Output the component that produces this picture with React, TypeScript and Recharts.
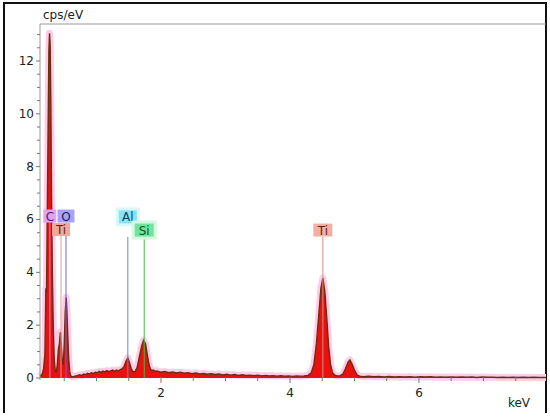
import React from "react";
import { ComposedChart, Area, XAxis, YAxis, ReferenceLine, ReferenceDot } from "recharts";

// EDS spectrum: [energy keV, counts cps/eV]
const spectrum: [number, number][] = [
  [0.124, 0.06], [0.14, 0.1], [0.16, 0.15], [0.18, 0.35], [0.2, 0.9], [0.215, 3.4],
  [0.225, 3.2], [0.235, 5.8], [0.25, 9.5], [0.262, 12.4], [0.272, 13.05], [0.282, 12.6],
  [0.292, 10.5], [0.302, 7.2], [0.315, 4.1], [0.33, 1.9], [0.345, 0.7], [0.36, 0.3],
  [0.375, 0.2], [0.39, 0.45], [0.41, 1.1], [0.425, 1.3], [0.44, 1.74], [0.455, 1.2],
  [0.47, 0.6], [0.485, 0.5], [0.5, 1.3], [0.515, 2.5], [0.53, 3.05], [0.54, 2.6],
  [0.555, 1.6], [0.57, 0.7], [0.585, 0.25], [0.6, 0.08], [0.62, 0.05], [0.65, 0.06],
  [0.68, 0.08], [0.71, 0.1], [0.74, 0.12], [0.77, 0.09], [0.8, 0.15], [0.83, 0.13],
  [0.86, 0.18], [0.89, 0.15], [0.92, 0.2], [0.95, 0.17], [0.98, 0.22], [1.01, 0.2],
  [1.04, 0.25], [1.07, 0.21], [1.1, 0.26], [1.13, 0.23], [1.16, 0.28], [1.19, 0.24],
  [1.22, 0.27], [1.25, 0.3], [1.28, 0.25], [1.31, 0.3], [1.34, 0.27], [1.37, 0.32],
  [1.4, 0.35], [1.43, 0.45], [1.46, 0.65], [1.486, 0.76], [1.51, 0.6], [1.54, 0.35],
  [1.57, 0.22], [1.6, 0.25], [1.63, 0.4], [1.66, 0.75], [1.7, 1.2], [1.73, 1.43],
  [1.76, 1.3], [1.79, 0.85], [1.82, 0.45], [1.85, 0.28], [1.88, 0.3], [1.91, 0.25],
  [1.94, 0.27], [2.0, 0.22], [2.06, 0.25], [2.12, 0.2], [2.18, 0.23], [2.24, 0.19],
  [2.3, 0.22], [2.36, 0.18], [2.42, 0.2], [2.48, 0.16], [2.54, 0.19], [2.6, 0.15],
  [2.66, 0.17], [2.72, 0.14], [2.78, 0.16], [2.84, 0.13], [2.9, 0.15], [2.96, 0.12],
  [3.02, 0.14], [3.08, 0.11], [3.14, 0.13], [3.2, 0.1], [3.26, 0.12], [3.32, 0.1],
  [3.38, 0.11], [3.44, 0.09], [3.5, 0.11], [3.56, 0.08], [3.62, 0.1], [3.68, 0.08],
  [3.74, 0.09], [3.8, 0.07], [3.86, 0.09], [3.92, 0.07], [3.98, 0.08], [4.04, 0.06],
  [4.1, 0.08], [4.16, 0.07], [4.22, 0.08], [4.28, 0.1], [4.33, 0.2], [4.37, 0.5],
  [4.41, 1.3], [4.45, 2.5], [4.48, 3.4], [4.51, 3.78], [4.54, 3.3], [4.57, 2.3],
  [4.6, 1.2], [4.63, 0.5], [4.66, 0.2], [4.7, 0.1], [4.74, 0.08], [4.78, 0.09],
  [4.82, 0.15], [4.86, 0.35], [4.9, 0.6], [4.93, 0.68], [4.96, 0.55], [5.0, 0.3],
  [5.04, 0.12], [5.08, 0.07], [5.14, 0.05], [5.22, 0.07], [5.3, 0.05], [5.38, 0.06],
  [5.46, 0.04], [5.54, 0.06], [5.62, 0.04], [5.7, 0.05], [5.78, 0.04], [5.86, 0.05],
  [5.94, 0.03], [6.02, 0.05], [6.1, 0.04], [6.18, 0.05], [6.26, 0.03], [6.34, 0.04],
  [6.42, 0.03], [6.5, 0.04], [6.58, 0.03], [6.66, 0.04], [6.74, 0.03], [6.82, 0.04],
  [6.9, 0.02], [6.98, 0.04], [7.06, 0.03], [7.14, 0.03], [7.22, 0.02], [7.3, 0.03],
  [7.38, 0.02], [7.46, 0.03], [7.54, 0.02], [7.62, 0.03], [7.7, 0.02], [7.78, 0.03],
  [7.86, 0.02], [7.97, 0.02],
];

const elementNames = ["C", "O", "Ti", "Al", "Si", "Ti"];
const elementKeV = [0.277, 0.527, 0.45, 1.486, 1.74, 4.51];

const yTicks = [0, 0.5, 1, 1.5, 2, 2.5, 3, 3.5, 4, 4.5, 5, 5.5, 6, 6.5, 7, 7.5, 8, 8.5, 9, 9.5, 10, 10.5, 11, 11.5, 12, 12.5, 13];
const yTickLabels = [0, 2, 4, 6, 8, 10, 12];
const xTicks = [0.5, 1, 1.5, 2, 2.5, 3, 3.5, 4, 4.5, 5, 5.5, 6, 6.5, 7, 7.5];
const xTickLabels = [2, 4, 6];

// label look for each element marker (same order as elementNames)
const markerStyle = [
  { bg: "#e2a2f2", fg: "#5a1a6a", line: "#d890e0", w: 13, labelY: 6.13, lineTop: 5.9, glow: "" },
  { bg: "#a9a3f3", fg: "#1c1c70", line: "#6868e0", w: 17, labelY: 6.13, lineTop: 5.9, glow: "" },
  { bg: "#f2a898", fg: "#6a1a10", line: "#d8a090", w: 18, labelY: 5.62, lineTop: 5.41, glow: "" },
  { bg: "#86e2f4", fg: "#10405a", line: "#6088c8", w: 18, labelY: 6.1, lineTop: 5.34, glow: "#d8f8fc" },
  { bg: "#6ee49c", fg: "#10501e", line: "#40c040", w: 19, labelY: 5.6, lineTop: 5.34, glow: "#d6f8e0" },
  { bg: "#f2b0a4", fg: "#6a1a10", line: "#d09080", w: 19, labelY: 5.6, lineTop: 5.34, glow: "" },
];

const data = spectrum.map(([keV, cps]) => ({ keV, cps }));
const FONT = "'DejaVu Sans', Verdana, sans-serif";

function YTick(props: any) {
  const { x, y, payload } = props;
  const major = yTickLabels.includes(payload.value);
  return (
    <g>
      <line x1={x - (major ? 4 : 3)} x2={x} y1={y} y2={y} stroke="#777" />
      {major && (
        <text x={x - 6} y={y} dy={4} textAnchor="end" fontSize={12} fontFamily={FONT} fill="#222">
          {payload.value}
        </text>
      )}
    </g>
  );
}

function XTick(props: any) {
  const { x, y, payload } = props;
  const major = xTickLabels.includes(payload.value);
  return (
    <g>
      <line x1={x} x2={x} y1={y - 3} y2={y + (major ? 3 : 1)} stroke="#777" />
      {major && (
        <text x={x} y={y + 17} textAnchor="middle" fontSize={12} fontFamily={FONT} fill="#222">
          {payload.value}
        </text>
      )}
    </g>
  );
}

function Tag({ cx, cy, name, s }: any) {
  const h = 13;
  return (
    <g>
      {s.glow && <rect x={cx - s.w / 2 - 3} y={cy - h / 2 - 3} width={s.w + 6} height={h + 6} fill={s.glow} />}
      <rect x={cx - s.w / 2} y={cy - h / 2} width={s.w} height={h} fill={s.bg} />
      <text x={cx} y={cy} dy={4.5} textAnchor="middle" fontSize={12} fontFamily={FONT} fill={s.fg}>
        {name}
      </text>
    </g>
  );
}

export default function App() {
  return (
    <div style={{ position: "absolute", left: 0, top: 0, width: 550, height: 417, background: "#fff" }}>
      <div
        style={{
          position: "absolute", left: 3, top: 2, width: 544, height: 411, boxSizing: "border-box",
          borderLeft: "2px solid #111", borderTop: "2px solid #111", borderRight: "2px solid #111",
        }}
      />
      <div style={{ position: "absolute", left: 0, top: 0 }}>
        <ComposedChart width={550} height={417} data={data} margin={{ top: 0, right: 4, bottom: 0, left: 0 }}>
          <XAxis
            xAxisId="top" orientation="top" dataKey="keV" type="number" domain={[0.124, 7.97]}
            height={24} tick={false} tickLine={false} axisLine={{ stroke: "#9a9a9a" }}
          />
          <XAxis
            dataKey="keV" type="number" domain={[0.124, 7.97]} ticks={xTicks} interval={0}
            tick={<XTick />} tickLine={false} tickSize={0} tickMargin={0} axisLine={false} height={37}
            label={(p: any) => (
              <text x={p.viewBox.x + p.viewBox.width - 16} y={p.viewBox.y + 27} textAnchor="end" fontSize={12} fontFamily={FONT} fill="#222">
                keV
              </text>
            )}
          />
          <YAxis
            type="number" domain={[-0.076, 13.4]} ticks={yTicks} interval={0} width={40}
            tick={<YTick />} tickLine={false} tickSize={0} tickMargin={0} axisLine={{ stroke: "#9a9a9a" }}
            label={(p: any) => (
              <text x={p.viewBox.x + p.viewBox.width + 3} y={p.viewBox.y - 5} fontSize={12} fontFamily={FONT} fill="#222">
                cps/eV
              </text>
            )}
          />
          {/* soft pink highlight under the spectrum */}
          <Area type="linear" dataKey="cps" stroke="#ffcce8" strokeWidth={7} strokeLinejoin="round" fill="none" fillOpacity={0} baseValue={0} dot={false} activeDot={false} isAnimationActive={false} />
          <Area type="linear" dataKey="cps" stroke="#6e2c0c" strokeWidth={1.4} fill="#ea1010" fillOpacity={1} baseValue={0} dot={false} activeDot={false} isAnimationActive={false} />
          {elementKeV.map((e, i) => (
            <ReferenceLine
              key={"l" + i}
              segment={[{ x: e, y: 0 }, { x: e, y: markerStyle[i].lineTop }]}
              stroke={markerStyle[i].line}
              strokeWidth={1}
            />
          ))}
          {elementKeV.map((e, i) => (
            <ReferenceDot
              key={"t" + i}
              x={e}
              y={markerStyle[i].labelY}
              r={0}
              shape={(p: any) => <Tag cx={p.cx} cy={p.cy} name={elementNames[i]} s={markerStyle[i]} />}
            />
          ))}
        </ComposedChart>
      </div>
    </div>
  );
}
